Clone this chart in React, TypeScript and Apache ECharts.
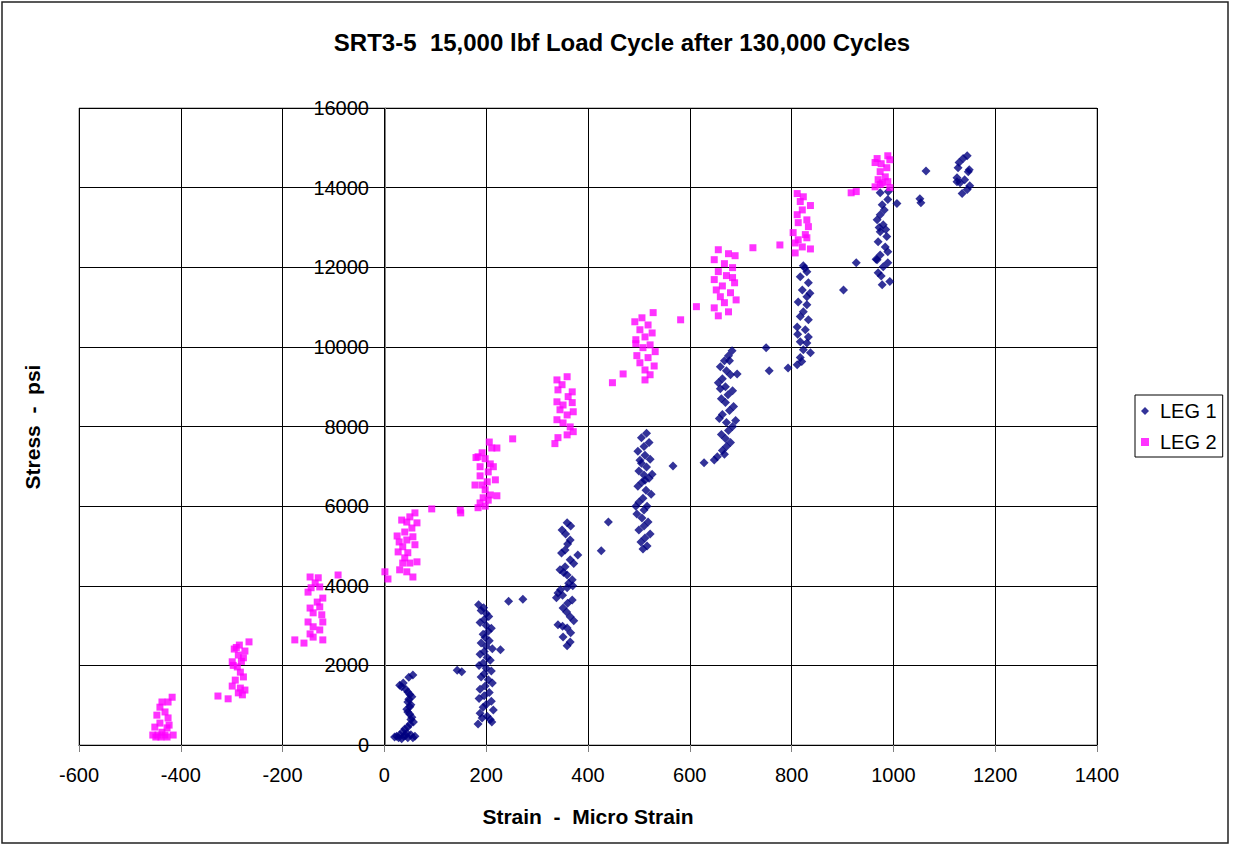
import React, { useEffect, useRef } from "react";
import * as echarts from "echarts";

const title = "SRT3-5  15,000 lbf Load Cycle after 130,000 Cycles";
const xAxisTitle = "Strain  -  Micro Strain";
const yAxisTitle = "Stress  -  psi";
const seriesNames = ["LEG 1", "LEG 2"];

// LEG 1 (strain, stress)
const leg1A = [[56,1760],[48,1700],[37,1560],[30,1500],[34,1460],[42,1400],[46,1330],[50,1270],[54,1210],[48,1150],[46,1080],[52,1010],[50,960],[44,900],[46,830],[50,770],[54,700],[52,640],[57,580],[50,520],[46,450],[40,400],[36,330],[44,300],[30,260],[52,260],[24,220],[38,220],[60,220],[28,180],[46,180],[20,200],[34,160],[56,180],[42,240],[143,1880],[152,1840]];
const leg1B = [[185,3520],[195,3450],[190,3380],[200,3300],[205,3230],[196,3150],[188,3080],[200,3000],[210,2930],[204,2860],[194,2780],[198,2700],[206,2620],[190,2560],[200,2480],[212,2420],[196,2350],[188,2280],[202,2200],[208,2130],[194,2060],[186,2000],[200,1930],[210,1860],[196,1790],[190,1710],[204,1640],[212,1560],[198,1480],[188,1400],[206,1320],[196,1240],[186,1170],[210,1100],[200,1020],[194,950],[214,880],[188,800],[202,720],[208,640],[184,530],[211,580],[192,680],[228,2390],[244,3610],[272,3660]];
const leg1C = [[359,5580],[366,5500],[349,5400],[356,5300],[365,5150],[360,5050],[355,4900],[348,4820],[365,4650],[372,4560],[345,4400],[352,4330],[359,4270],[369,4150],[362,4060],[359,3950],[341,3820],[350,3760],[369,3640],[360,3560],[351,3440],[358,3340],[365,3220],[372,3120],[341,3020],[350,2980],[359,2940],[366,2820],[351,2710],[365,2590],[359,2490],[346,3900],[338,3700],[370,4000],[355,4480],[380,4770],[426,4880],[440,5600]];
const leg1D = [[515,7830],[505,7720],[520,7600],[510,7500],[498,7380],[512,7280],[522,7180],[505,7080],[515,6980],[500,6880],[510,6780],[520,6700],[506,6600],[498,6500],[514,6400],[524,6300],[508,6200],[500,6100],[516,6000],[510,5900],[496,5800],[506,5700],[518,5600],[510,5500],[500,5400],[522,5300],[512,5200],[504,5100],[516,5000],[508,4920],[526,6800],[494,6000],[512,6650],[502,7150],[567,7010],[628,7090],[648,7160],[654,7240]];
const leg1E = [[683,9900],[676,9780],[668,9650],[660,9500],[672,9400],[680,9300],[664,9200],[656,9100],[670,9000],[684,8900],[675,8800],[662,8700],[670,8600],[686,8500],[678,8400],[664,8300],[658,8200],[672,8100],[684,8000],[676,7900],[662,7800],[670,7700],[680,7600],[672,7500],[664,7400],[668,7300],[690,8150],[660,8950],[678,9650],[693,9320],[750,9980],[756,9400],[793,9470]];
const leg1F = [[823,12040],[830,11890],[817,11760],[833,11610],[821,11430],[830,11260],[813,11130],[830,11060],[823,10880],[817,10760],[833,10680],[811,10500],[827,10430],[833,10250],[817,10130],[830,10100],[823,9930],[837,9850],[817,9730],[811,9550],[820,9630],[826,11980],[812,10320],[836,11350],[902,11430],[927,12110]];
const leg1G = [[974,13870],[989,13700],[978,13570],[982,13440],[974,13320],[968,13190],[980,13070],[974,12890],[987,12770],[970,12640],[984,12510],[989,12390],[974,12310],[968,12190],[989,12110],[980,12010],[970,11860],[976,11780],[993,11640],[978,11560],[966,12200],[990,13900],[972,13000],[985,12950],[1007,13600],[1052,13720],[1054,13620],[1064,14420]];
const leg1H = [[1145,14800],[1137,14730],[1129,14630],[1127,14500],[1147,14400],[1149,14450],[1125,14250],[1131,14120],[1145,13950],[1135,13850],[1125,14150],[1140,14200],[1150,14050]];

// LEG 2 (strain, stress)
const leg2A = [[-417,1200],[-425,1080],[-437,1080],[-441,950],[-431,830],[-447,750],[-425,680],[-441,550],[-451,450],[-427,430],[-455,250],[-445,250],[-431,250],[-415,250],[-437,320],[-423,500],[-449,200],[-439,200],[-427,200],[-327,1230],[-307,1160]];
const leg2B = [[-266,2590],[-285,2510],[-295,2410],[-274,2360],[-287,2260],[-277,2190],[-299,2090],[-289,1960],[-283,1830],[-277,1710],[-293,1630],[-299,1480],[-283,1430],[-274,1380],[-287,1310],[-279,1260],[-297,2000],[-291,2450],[-281,2100],[-176,2640],[-158,2560]];
const leg2C = [[-146,4220],[-136,4070],[-150,3840],[-127,3970],[-121,3690],[-132,3590],[-146,3440],[-140,3320],[-123,3270],[-121,3090],[-150,3090],[-140,2970],[-127,2890],[-146,2790],[-140,2710],[-121,2640],[-130,4200],[-144,3950],[-127,3470],[-91,4270],[1,4350],[7,4170]];
const leg2D = [[60,5830],[50,5730],[34,5650],[44,5600],[64,5580],[54,5450],[40,5350],[25,5250],[56,5230],[44,5150],[60,5030],[36,4980],[27,4850],[46,4830],[40,4700],[64,4600],[50,4570],[36,4570],[30,4400],[44,4350],[56,4220],[29,5100],[93,5930],[149,5900],[150,5830]];
const leg2E = [[206,7610],[211,7460],[221,7460],[192,7340],[184,7240],[198,7190],[208,7060],[188,6990],[214,6990],[204,6860],[188,6760],[218,6660],[202,6610],[192,6530],[198,6410],[208,6280],[221,6260],[194,6210],[204,6150],[188,6080],[184,5960],[198,6000],[178,6530],[180,7220],[252,7690]];
const leg2F = [[359,9250],[339,9170],[349,9050],[341,8920],[369,8870],[361,8750],[339,8620],[351,8540],[371,8370],[359,8290],[339,8170],[351,8090],[365,7990],[371,7870],[359,7790],[341,7720],[335,7570],[345,8420],[369,8600],[448,9100],[469,9320]];
const leg2G = [[528,10860],[506,10730],[492,10630],[518,10550],[502,10430],[526,10350],[512,10250],[494,10180],[522,10050],[508,9980],[532,9880],[496,9780],[518,9730],[502,9600],[530,9520],[512,9420],[522,9300],[512,9170],[494,10080],[582,10680],[613,11010]];
const leg2H = [[656,12440],[676,12340],[689,12290],[648,12190],[668,12090],[684,11990],[656,11890],[672,11790],[648,11690],[688,11610],[664,11530],[652,11430],[680,11360],[660,11260],[691,11180],[668,11110],[648,10980],[676,10880],[656,10780],[684,11740],[724,12490],[777,12560]];
const leg2I = [[811,13850],[823,13770],[817,13650],[837,13550],[821,13440],[811,13320],[830,13190],[813,13120],[833,13020],[803,12870],[827,12820],[813,12690],[830,12740],[807,12610],[821,12510],[837,12460],[807,12360],[917,13870],[927,13900]];
const leg2J = [[989,14800],[993,14700],[968,14730],[964,14630],[976,14600],[987,14500],[974,14400],[984,14270],[970,14200],[989,14150],[978,14120],[964,14020],[993,14000],[974,14080]];

const leg1 = [...leg1A, ...leg1B, ...leg1C, ...leg1D, ...leg1E, ...leg1F, ...leg1G, ...leg1H];
const leg2 = [...leg2A, ...leg2B, ...leg2C, ...leg2D, ...leg2E, ...leg2F, ...leg2G, ...leg2H, ...leg2I, ...leg2J];

const FONT = 'Arial, "Liberation Sans", sans-serif';
const plainNumber = (v: number) => String(v);

export default function App() {
  const ref = useRef<HTMLDivElement>(null);
  useEffect(() => {
    const chart = echarts.init(ref.current!, null, { renderer: "svg" });
    chart.setOption({
      animation: false,
      backgroundColor: "#fff",
      title: {
        text: title,
        left: 617,
        textAlign: "center",
        top: 25,
        textStyle: { fontFamily: FONT, fontSize: 24, fontWeight: "bold", color: "#000" },
      },
      legend: {
        left: 1135,
        top: 395,
        orient: "vertical",
        backgroundColor: "#fff",
        borderColor: "#000",
        borderWidth: 1,
        padding: [6, 6, 5, 6],
        itemGap: 11,
        itemWidth: 8,
        itemHeight: 8,
        data: [
          { name: seriesNames[0], icon: "diamond" },
          { name: seriesNames[1], icon: "rect" },
        ],
        textStyle: { fontFamily: FONT, fontSize: 20, color: "#000", lineHeight: 20, padding: [0, 0, 0, 6] },
      },
      grid: {
        left: 79,
        top: 108,
        width: 1018,
        height: 637,
        show: true,
        borderColor: "#808080",
        borderWidth: 1,
      },
      xAxis: {
        type: "value",
        min: -600,
        max: 1400,
        interval: 200,
        axisLine: { show: true, onZero: false, lineStyle: { color: "#000" } },
        axisTick: { show: true, length: 7, lineStyle: { color: "#808080" } },
        axisLabel: { margin: 20, fontFamily: FONT, fontSize: 20, color: "#000", formatter: plainNumber },
        splitLine: { show: true, lineStyle: { color: "#000", width: 1 } },
      },
      yAxis: {
        type: "value",
        min: 0,
        max: 16000,
        interval: 2000,
        position: "left",
        offset: -306,
        axisLine: { show: true, onZero: false, lineStyle: { color: "#808080" } },
        axisTick: { show: true, length: 7, lineStyle: { color: "#000" } },
        axisLabel: { margin: 16, fontFamily: FONT, fontSize: 20, color: "#000", formatter: plainNumber },
        splitLine: { show: true, lineStyle: { color: "#000", width: 1 } },
      },
      graphic: [
        {
          type: "rect",
          shape: { x: 2, y: 2, width: 1226, height: 841 },
          style: { fill: "none", stroke: "#222", lineWidth: 1.5 },
          silent: true,
        },
        {
          type: "text",
          x: 588,
          y: 816,
          style: {
            text: xAxisTitle,
            fontFamily: FONT,
            fontSize: 21,
            fontWeight: "bold",
            fill: "#000",
            align: "center",
            verticalAlign: "middle",
          },
        },
        {
          type: "text",
          x: 32,
          y: 427,
          rotation: Math.PI / 2,
          style: {
            text: yAxisTitle,
            fontFamily: FONT,
            fontSize: 21,
            fontWeight: "bold",
            fill: "#000",
            align: "center",
            verticalAlign: "middle",
          },
        },
      ],
      series: [
        {
          name: seriesNames[0],
          type: "scatter",
          symbol: "diamond",
          symbolSize: 9,
          itemStyle: { color: "#000080" },
          data: leg1,
          z: 3,
        },
        {
          name: seriesNames[1],
          type: "scatter",
          symbol: "rect",
          symbolSize: 7,
          itemStyle: { color: "#FF00FF" },
          data: leg2,
          z: 3,
        },
      ],
    });
    return () => chart.dispose();
  }, []);
  return (
    <div
      ref={ref}
      style={{ position: "absolute", left: 0, top: 0, width: 1233, height: 845 }}
    />
  );
}
